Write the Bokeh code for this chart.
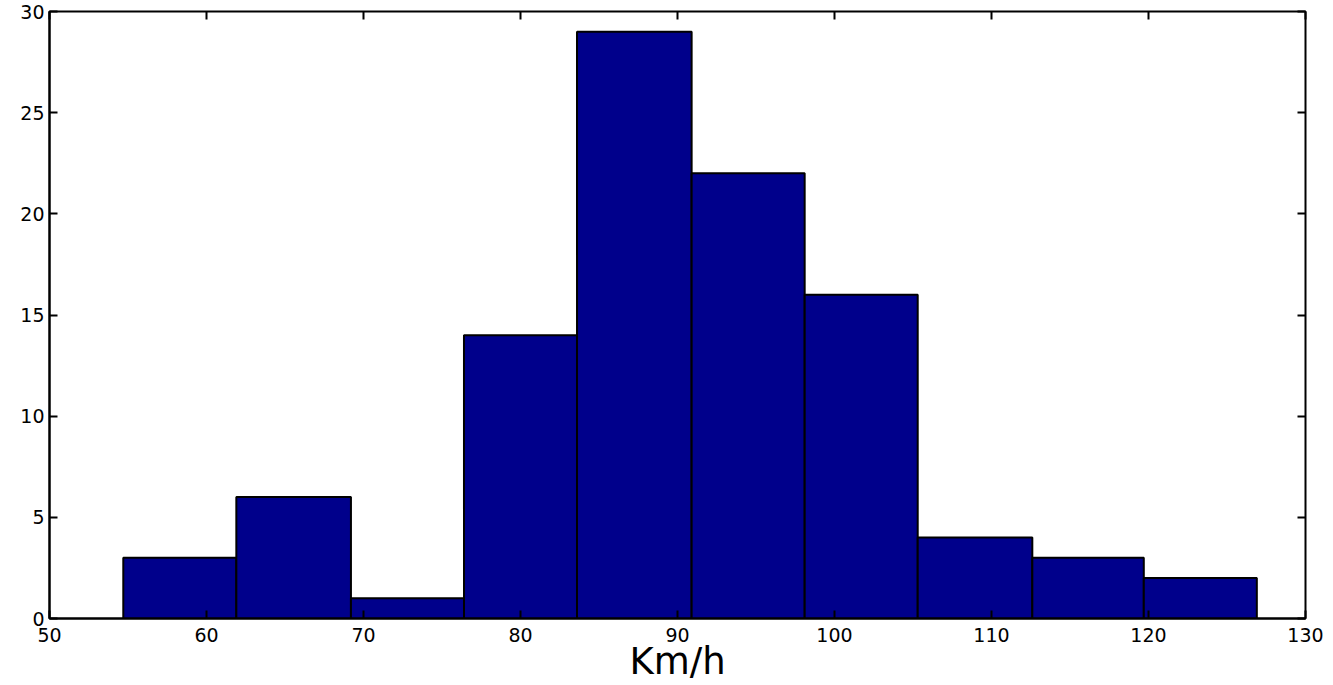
from bokeh.plotting import figure
from bokeh.models import LinearAxis, FixedTicker, Range1d, ColumnDataSource, CustomJSTickFormatter
from bokeh.embed import file_html
from bokeh.resources import INLINE

# Histogram data
bin_edges = [54.7, 61.9, 69.2, 76.4, 83.6, 90.9, 98.1, 105.3, 112.6, 119.7, 126.9]
counts = [3, 6, 1, 14, 29, 22, 16, 4, 3, 2]
x_ticks = [50, 60, 70, 80, 90, 100, 110, 120, 130]
y_ticks = [0, 5, 10, 15, 20, 25, 30]
x_label = "Km/h"

src = ColumnDataSource(dict(left=bin_edges[:-1], right=bin_edges[1:],
                            top=counts, bottom=[0] * len(counts)))

FONT = "DejaVu Sans"

p = figure(width=1325, height=685, output_backend="svg", toolbar_location=None,
           x_range=Range1d(50, 130), y_range=Range1d(0, 30),
           x_axis_label=x_label,
           min_border_left=49, min_border_right=20, min_border_top=11, min_border_bottom=40)
p.background_fill_color = "white"
p.border_fill_color = "white"
p.grid.visible = False
p.outline_line_color = "black"
p.outline_line_width = 2

p.quad(left="left", right="right", top="top", bottom="bottom", source=src,
       fill_color="#00008b", line_color="black", line_width=2)

for ax in (p.xaxis[0], p.yaxis[0]):
    ax.major_tick_in = 8
    ax.major_tick_out = 0
    ax.minor_tick_line_color = None
    ax.axis_line_width = 2
    ax.major_tick_line_width = 2
    ax.major_label_text_font = FONT
    ax.major_label_text_font_size = "19px"
    ax.major_label_text_color = "black"

p.xaxis[0].ticker = FixedTicker(ticks=x_ticks)
p.yaxis[0].ticker = FixedTicker(ticks=y_ticks)
p.xaxis[0].major_label_standoff = 9
p.yaxis[0].major_label_standoff = 5
p.xaxis[0].axis_label_text_font = FONT
p.xaxis[0].axis_label_text_font_size = "37px"
p.xaxis[0].axis_label_text_font_style = "normal"
p.xaxis[0].axis_label_text_color = "black"
p.xaxis[0].axis_label_standoff = -5

blank = CustomJSTickFormatter(code="return '';")
top_ax = LinearAxis(ticker=FixedTicker(ticks=x_ticks), major_tick_in=8, major_tick_out=0,
                    minor_tick_line_color=None, formatter=blank, major_label_text_font_size="1px",
                    major_label_standoff=0, axis_line_color=None, major_tick_line_width=2)
right_ax = LinearAxis(ticker=FixedTicker(ticks=y_ticks), major_tick_in=8, major_tick_out=0,
                      minor_tick_line_color=None, formatter=blank, major_label_text_font_size="1px",
                      major_label_standoff=0, axis_line_color=None, major_tick_line_width=2)
p.add_layout(top_ax, "above")
p.add_layout(right_ax, "right")

open("out.html", "w").write(file_html(p, INLINE))
